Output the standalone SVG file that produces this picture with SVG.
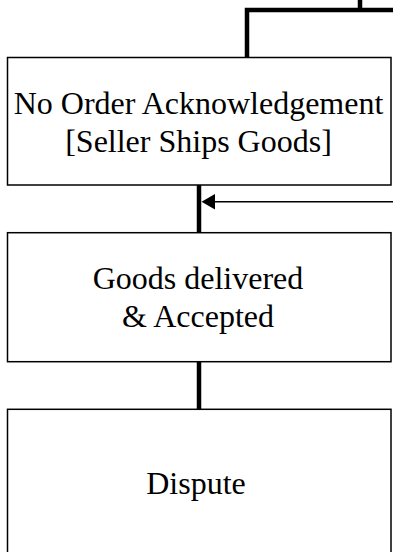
<svg xmlns="http://www.w3.org/2000/svg" width="393" height="552" viewBox="0 0 393 552">
<defs>
<style>
.box{fill:#fff;stroke:#000;stroke-width:1.5}
.t{font-family:"Liberation Serif","Times New Roman",serif;font-size:32px;fill:#000;text-anchor:middle}
.thick{fill:none;stroke:#000;stroke-width:4.5}
.thin{fill:none;stroke:#000;stroke-width:1.5}
</style>
</defs>
<g id="connectors">
<path class="thick" d="M360,0 V10 M393,10 H247 V58"/>
<path class="thick" d="M199,185 V233"/>
<path class="thin" d="M393,201.7 H214"/>
<path d="M201.5,201.7 L215,194 L215,209.4 Z" fill="#000"/>
<path class="thick" d="M199,362 V409"/>
</g>
<g id="node1">
<rect class="box" x="7.5" y="57.5" width="383.5" height="127.5"/>
<text class="t" x="198.5" y="114">No Order Acknowledgement</text>
<text class="t" x="198.5" y="151.5">[Seller Ships Goods]</text>
</g>
<g id="node2">
<rect class="box" x="7.5" y="232.7" width="383.5" height="129"/>
<text class="t" x="198" y="288.5">Goods delivered</text>
<text class="t" x="198" y="326.5">&amp; Accepted</text>
</g>
<g id="node3">
<rect class="box" x="7.5" y="409.3" width="383.5" height="160"/>
<text class="t" x="196" y="494.3">Dispute</text>
</g>
</svg>
